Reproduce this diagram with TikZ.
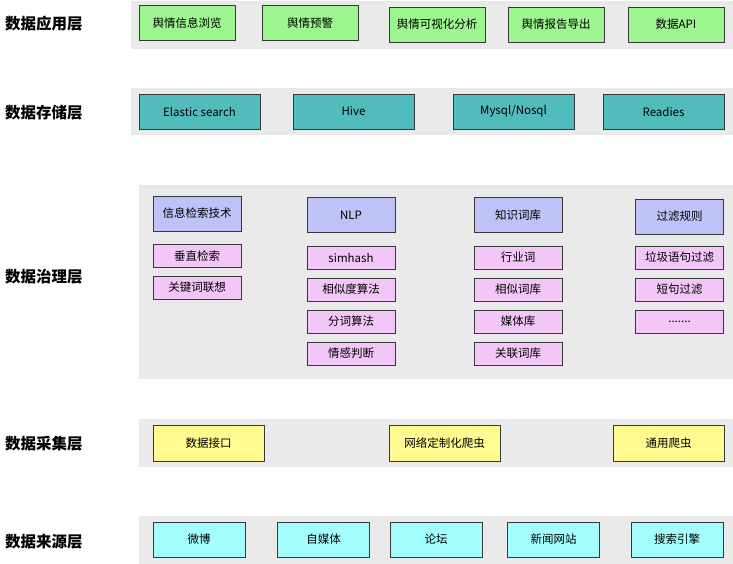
\documentclass[tikz,border=0pt]{standalone}
\usepackage{fontspec}
\setmainfont{Noto Sans CJK SC}
\usepackage{tikz}
\usetikzlibrary{positioning,backgrounds}
\definecolor{bandgray}{HTML}{EAEAEA}
\definecolor{appgreen}{HTML}{9CF58E}
\definecolor{stoteal}{HTML}{52BCBC}
\definecolor{hdrblue}{HTML}{BFC2F7}
\definecolor{itmpink}{HTML}{F2C6F6}
\definecolor{colyellow}{HTML}{FFFB91}
\definecolor{srccyan}{HTML}{A2FDFC}
\tikzset{
  band/.style={rectangle,fill=bandgray,draw=none,inner sep=0pt},
  bx/.style={rectangle,draw=black!78,line width=.8pt,inner sep=0pt,
             font=\fontsize{11.5}{14}\selectfont,minimum height=35},
  app/.style={bx,fill=appgreen,minimum width=96},
  sto/.style={bx,fill=stoteal,minimum width=121},
  hdr/.style={bx,fill=hdrblue,minimum width=88},
  itm/.style={bx,fill=itmpink,minimum width=88,minimum height=23},
  col/.style={bx,fill=colyellow,minimum width=111,minimum height=36},
  src/.style={bx,fill=srccyan,minimum width=92},
  % layer names sit left of the grey bands
  lyr/.style={anchor=west,inner sep=0pt,font=\fontsize{15.5}{18}\selectfont\bfseries},
}
\begin{document}
\begin{tikzpicture}[x=1pt,y=-1pt]
\useasboundingbox (0,0) rectangle (733,564);
% --- bands
\node[band,minimum width=602,minimum height=48] (bApp) at (432,25) {};
\node[band,minimum width=602,minimum height=47] (bSto) at (432,111.5) {};
\node[band,minimum width=594,minimum height=194] (bGov) at (436,282) {};
\node[band,minimum width=594,minimum height=48] (bCol) at (436,443) {};
\node[band,minimum width=594,minimum height=48] (bSrc) at (436,540) {};
% --- layer names
\foreach \n/\y/\t in {lApp/24/数据应用层, lSto/113/数据存储层, lGov/277/数据治理层,
                      lCol/444/数据采集层, lSrc/542/数据来源层}{
  \node[lyr] (\n) at (5,\y) {\t};
}
% --- application layer
\foreach \n/\x/\y/\t in {a1/187/23/舆情信息浏览, a2/310/23/舆情预警, a3/437/24.5/舆情可视化分析,
                         a4/556/24.5/舆情报告导出, a5/676/24.5/数据API}{
  \node[app] (\n) at (\x,\y) {\t};
}
% --- storage layer
\foreach \n/\x/\t in {s1/199.5/{Elastic search}, s2/353.5/Hive, s3/513.5/{Mysql/Nosql}, s4/663.5/Readies}{
  \node[sto] (\n) at (\x,111.5) {\t};
}
% --- governance layer: a header and its items per column
\node[hdr] (h1) at (197,213.5) {信息检索技术};
\node[hdr] (h2) at (351,215) {NLP};
\node[hdr] (h3) at (518,215) {知识词库};
\node[hdr] (h4) at (679.5,216.5) {过滤规则};
\node[itm] (i11) at (197,256) {垂直检索};
\node[itm] (i12) at (197,287.5) {关键词联想};
\foreach \r/\y/\p/\q/\s in {1/257.5/simhash/行业词/垃圾语句过滤,
                            2/289.5/相似度算法/相似词库/短句过滤,
                            3/321.5/分词算法/媒体库/{.......}}{
  \node[itm] (i2\r) at (351,\y) {\p};
  \node[itm] (i3\r) at (518,\y) {\q};
  \node[itm] (i4\r) at (679.5,\y) {\s};
}
\node[itm] (i24) at (351,353.5) {情感判断};
\node[itm] (i34) at (518,353.5) {关联词库};
% --- collection layer
\foreach \n/\x/\t in {c1/208.5/数据接口, c2/444.5/网络定制化爬虫, c3/668.5/通用爬虫}{
  \node[col] (\n) at (\x,443) {\t};
}
% --- source layer
\foreach \n/\x/\t in {d1/199/微博, d2/323.5/自媒体, d3/436/论坛, d4/553.5/新闻网站, d5/677/搜索引擎}{
  \node[src] (\n) at (\x,539.5) {\t};
}
\end{tikzpicture}
\end{document}
